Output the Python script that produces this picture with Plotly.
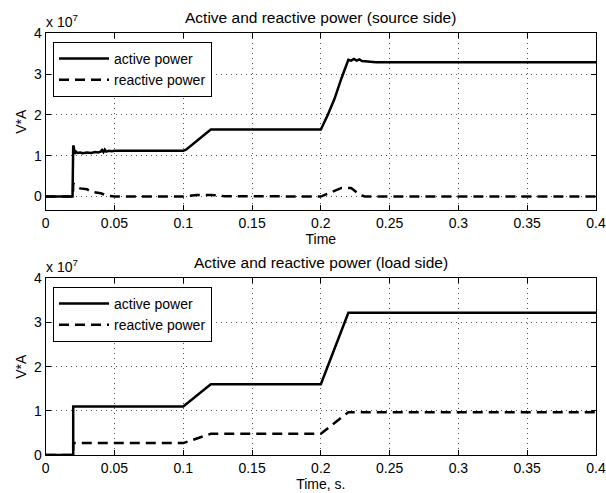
import plotly.graph_objects as go

# ---- data (power values in units of 1e7 V*A) ----
t_src_p = [0, 0.0195, 0.0200, 0.0205, 0.0210, 0.0220, 0.0230, 0.0250, 0.0270, 0.0300, 0.0330, 0.0360,
           0.0380, 0.0400, 0.0410, 0.0420, 0.0430, 0.0440, 0.0460, 0.0480, 0.0500, 0.0600, 0.0800,
           0.1000, 0.1020, 0.1200, 0.1300, 0.2000, 0.2050, 0.2100, 0.2150, 0.2200, 0.2220, 0.2240,
           0.2260, 0.2280, 0.2300, 0.2350, 0.2400, 0.3000, 0.4000]
p_src = [0, 0, 1.25, 1.20, 1.05, 1.10, 1.07, 1.08, 1.06, 1.08, 1.07, 1.09,
         1.08, 1.10, 1.14, 1.09, 1.15, 1.10, 1.12, 1.11, 1.12, 1.12, 1.12,
         1.12, 1.15, 1.64, 1.64, 1.64, 2.00, 2.40, 2.90, 3.35, 3.33, 3.37,
         3.33, 3.36, 3.32, 3.31, 3.29, 3.29, 3.29]

t_src_q = [0, 0.0198, 0.0200, 0.0220, 0.0250, 0.0300, 0.0330, 0.0400, 0.0450, 0.0500, 0.1000,
           0.1100, 0.1200, 0.1300, 0.2000, 0.2100, 0.2150, 0.2220, 0.2280, 0.2320, 0.4000]
q_src = [0, 0, 0.32, 0.25, 0.20, 0.18, 0.12, 0.08, 0.02, 0, 0,
         0.04, 0.04, 0.01, 0, 0.15, 0.21, 0.21, 0.05, 0, 0]

t_load = [0, 0.0200, 0.0200, 0.1000, 0.1200, 0.2000, 0.2200, 0.4000]
p_load = [0, 0, 1.10, 1.10, 1.60, 1.60, 3.22, 3.22]
q_load = [0, 0, 0.27, 0.27, 0.48, 0.48, 0.97, 0.97]

x_ticks = [0, 0.05, 0.1, 0.15, 0.2, 0.25, 0.3, 0.35, 0.4]
x_tick_text = ["0", "0.05", "0.1", "0.15", "0.2", "0.25", "0.3", "0.35", "0.4"]
y_ticks = [0, 1, 2, 3, 4]

titles = ["Active and reactive power (source side)", "Active and reactive power (load side)"]
x_titles = ["Time", "Time, s."]
names = ["active power", "reactive power"]

FONT = "Liberation Sans, Arial, sans-serif"
FS = 14
DASH = "10px,6px"

fig = go.Figure()
fig.add_trace(go.Scatter(x=t_src_p, y=p_src, mode="lines", name=names[0],
                         line=dict(color="black", width=2.5), xaxis="x", yaxis="y", legend="legend"))
fig.add_trace(go.Scatter(x=t_src_q, y=q_src, mode="lines", name=names[1],
                         line=dict(color="black", width=2.5, dash=DASH), xaxis="x", yaxis="y", legend="legend"))
fig.add_trace(go.Scatter(x=t_load, y=p_load, mode="lines", name=names[0],
                         line=dict(color="black", width=2.5), xaxis="x2", yaxis="y2", legend="legend2"))
fig.add_trace(go.Scatter(x=t_load, y=q_load, mode="lines", name=names[1],
                         line=dict(color="black", width=2.5, dash=DASH), xaxis="x2", yaxis="y2", legend="legend2"))

W, H = 606, 493
x0, x1 = 45.7 / W, 596 / W
top_dom = [1 - 210 / H, 1 - 33.3 / H]
bot_dom = [1 - 455 / H, 1 - 278.3 / H]

common_ax = dict(showline=True, linecolor="black", linewidth=1, mirror="ticks",
                 ticks="inside", ticklen=5, tickcolor="black", automargin=False,
                 showgrid=True, gridcolor="#555555", griddash="1px,4px", gridwidth=1,
                 zeroline=False, tickfont=dict(family=FONT, size=FS, color="black"))

xa = dict(common_ax, range=[0, 0.4], tickvals=x_ticks, ticktext=x_tick_text, domain=[x0, x1])
fig.update_layout(
    width=W, height=H,
    margin=dict(l=0, r=0, t=0, b=0, autoexpand=False),
    paper_bgcolor="white", plot_bgcolor="white",
    font=dict(family=FONT, size=FS, color="black"),
    xaxis=dict(xa, anchor="y",
               title=dict(text=x_titles[0], font=dict(family=FONT, size=FS), standoff=0)),
    yaxis=dict(common_ax, range=[-0.33, 4], tickvals=y_ticks, domain=top_dom, anchor="x",
               title=dict(text="V*A", font=dict(family=FONT, size=FS), standoff=4)),
    xaxis2=dict(xa, anchor="y2",
                title=dict(text=x_titles[1], font=dict(family=FONT, size=FS), standoff=0)),
    yaxis2=dict(common_ax, range=[0, 4], tickvals=y_ticks, domain=bot_dom, anchor="x2",
                title=dict(text="V*A", font=dict(family=FONT, size=FS), standoff=4)),
    legend=dict(x=53 / W, y=1 - 42 / H, xanchor="left", yanchor="top",
                bgcolor="white", bordercolor="black", borderwidth=1,
                font=dict(family=FONT, size=FS), tracegroupgap=0, itemwidth=50),
    legend2=dict(x=53 / W, y=1 - 287 / H, xanchor="left", yanchor="top",
                 bgcolor="white", bordercolor="black", borderwidth=1,
                 font=dict(family=FONT, size=FS), tracegroupgap=0, itemwidth=50),
    showlegend=True,
)

ann = []
for i, (ttl, ytop) in enumerate(zip(titles, [top_dom[1], bot_dom[1]])):
    ann.append(dict(text=ttl, x=(x0 + x1) / 2, y=ytop + 5 / H, xref="paper", yref="paper",
                    xanchor="center", yanchor="bottom", showarrow=False,
                    font=dict(family=FONT, size=15.5)))
    ann.append(dict(text="x 10<sup>7</sup>", x=x0 - 2 / W, y=ytop + 1 / H, xref="paper", yref="paper",
                    xanchor="left", yanchor="bottom", showarrow=False,
                    font=dict(family=FONT, size=FS)))
fig.update_layout(annotations=ann)

fig.write_html("out.html", config={"displayModeBar": False},
               post_script="document.body.style.margin='0px';")
